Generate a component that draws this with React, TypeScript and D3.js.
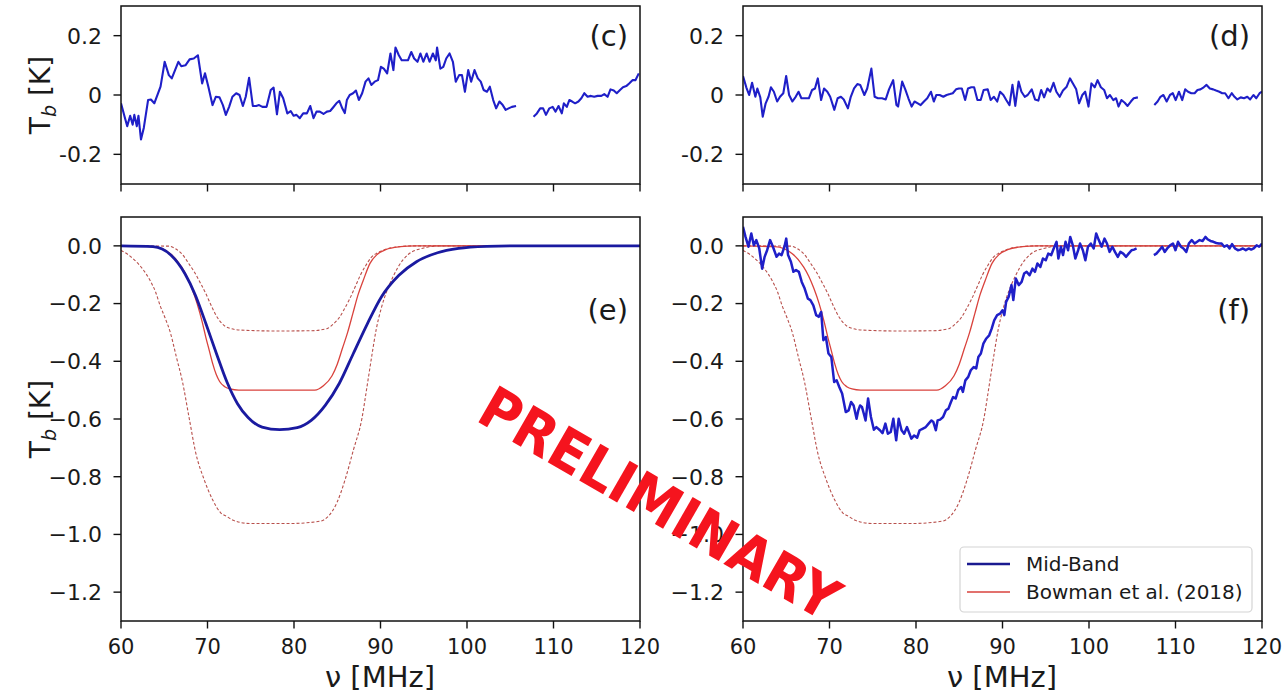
import React from "react";
import * as d3 from "d3";

type Pt = [number, number | null];

const freqTicks = [60, 70, 80, 90, 100, 110, 120];
const residualTicks = [-0.2, 0, 0.2];
const residualTickLabels = ["-0.2", "0", "0.2"];
const profileTicks = [0, -0.2, -0.4, -0.6, -0.8, -1.0, -1.2];
const profileTickLabels = ["0.0", "−0.2", "−0.4", "−0.6", "−0.8", "−1.0", "−1.2"];
const panelTags = ["(c)", "(d)", "(e)", "(f)"];
const legendLabels = ["Mid-Band", "Bowman et al. (2018)"];

// (c) residuals, Bowman-model fit
const residualC: Pt[] = [
  [60.0,-0.028],[60.48,-0.08],[60.72,-0.105],[61.06,-0.07],[61.35,-0.1],[61.54,-0.067],[61.83,-0.105],[62.02,-0.07],[62.31,-0.15],[62.64,-0.11],
  [63.13,-0.017],[63.46,-0.015],[63.85,-0.028],[64.57,0.028],[65.05,0.112],[65.53,0.067],[65.87,0.056],[66.25,0.084],[66.63,0.112],[66.97,0.097],
  [67.45,0.1],[67.93,0.12],[68.41,0.123],[68.89,0.134],[69.38,0.039],[69.71,0.073],[70.1,0.028],[70.58,-0.034],[70.96,-0.006],[71.39,-0.008],
  [71.78,-0.034],[72.12,-0.067],[72.5,-0.04],[72.88,-0.006],[73.32,0.006],[73.7,0],[74.09,-0.037],[74.42,-0.006],[74.81,0.058],[75.24,-0.037],
  [75.63,-0.037],[75.96,-0.034],[76.35,-0.04],[76.83,-0.04],[77.31,0.017],[77.64,0.025],[78.03,-0.065],[78.37,0.011],[78.75,-0.011],[79.23,-0.062],
  [79.62,-0.054],[79.95,-0.07],[80.29,-0.067],[80.67,-0.078],[81.06,-0.062],[81.49,-0.062],[81.88,-0.037],[82.26,-0.078],[82.6,-0.056],[82.98,-0.056],
  [83.41,-0.064],[83.8,-0.056],[84.18,-0.054],[84.52,-0.042],[84.9,-0.028],[85.24,-0.02],[85.58,-0.045],[85.87,-0.061],[86.11,-0.017],[86.44,0],
  [86.83,0.006],[87.16,0.015],[87.5,-0.017],[87.88,0.006],[88.27,0.045],[88.61,0.056],[88.94,0.034],[89.33,0.045],[89.71,0.05],[90.05,0.095],
  [90.38,0.089],[90.77,0.073],[91.15,0.14],[91.49,0.084],[91.73,0.16],[92.12,0.134],[92.45,0.117],[92.79,0.117],[93.17,0.117],[93.56,0.145],
  [93.89,0.123],[94.28,0.112],[94.62,0.14],[94.95,0.112],[95.34,0.14],[95.67,0.112],[96.06,0.14],[96.39,0.117],[96.54,0.16],[96.92,0.089],
  [97.26,0.095],[97.6,0.123],[97.98,0.14],[98.37,0.112],[98.7,0.045],[99.09,0.067],[99.42,0.067],[99.76,0.011],[100.14,0.084],[100.48,0.045],
  [100.87,0.084],[101.25,0.056],[101.59,0.045],[101.92,0.017],[102.31,0.011],[102.64,0.028],[103.03,-0.017],[103.37,-0.045],[103.75,-0.022],[104.13,-0.034],
  [104.47,-0.05],[104.81,-0.045],[105.19,-0.04],[105.67,-0.037],[106.6,null],
  [107.69,-0.073],[108.08,-0.062],[108.46,-0.045],[108.8,-0.045],[109.13,-0.067],[109.52,-0.045],[109.9,-0.04],[110.24,-0.056],[110.58,-0.037],[110.96,-0.062],
  [111.2,-0.028],[111.54,-0.04],[111.83,-0.017],[112.16,-0.022],[112.5,-0.028],[112.88,-0.022],[113.22,-0.011],[113.56,0.006],[113.94,-0.006],[114.33,-0.003],
  [114.71,-0.006],[115.1,-0.003],[115.53,-0.003],[115.87,0.003],[116.25,-0.006],[116.59,0.019],[116.97,0.015],[117.31,0.006],[117.69,0.017],[118.03,0.026],
  [118.41,0.03],[118.75,0.039],[119.13,0.05],[119.47,0.05],[119.86,0.073]
];

// (d) residuals, Mid-Band fit
const residualD: Pt[] = [
  [60.0,0.064],[60.38,0.026],[60.71,0],[61.05,0.041],[61.43,-0.006],[61.66,0.022],[62.0,-0.008],[62.28,-0.073],[62.62,-0.028],[62.95,-0.006],
  [63.23,0.026],[63.57,0.011],[63.95,-0.022],[64.28,-0.006],[64.66,0.006],[64.99,0.064],[65.33,0],[65.71,-0.022],[66.09,-0.006],[66.42,0.011],
  [66.75,-0.011],[67.13,-0.011],[67.61,-0.011],[67.99,0.017],[68.32,0.022],[68.65,0.056],[69.03,-0.017],[69.37,0.022],[69.75,0.011],[70.08,-0.006],
  [70.56,-0.05],[70.94,-0.011],[71.32,-0.006],[71.65,-0.015],[72.13,-0.045],[72.46,-0.006],[72.84,0.022],[73.22,0.037],[73.55,0.034],[74.03,0],
  [74.36,0.022],[74.84,0.089],[75.22,-0.006],[75.6,-0.011],[76.07,-0.011],[76.5,-0.015],[76.88,0.019],[77.36,0.05],[77.74,-0.034],[77.93,-0.039],
  [78.4,0.045],[78.78,0.017],[79.12,-0.011],[79.5,-0.039],[79.83,-0.022],[80.21,-0.028],[80.54,-0.034],[80.92,-0.022],[81.3,-0.011],[81.73,0.011],
  [82.06,-0.022],[82.35,0],[82.73,0],[83.16,-0.006],[83.54,0],[83.92,0.003],[84.25,0.006],[84.63,0.019],[84.96,0.022],[85.3,0.022],
  [85.68,-0.017],[86.01,0.022],[86.39,0.026],[86.72,0.026],[87.1,-0.017],[87.48,-0.017],[87.82,0.017],[88.29,0.019],[88.63,-0.017],[89.01,-0.006],
  [89.39,-0.022],[89.72,0.011],[90.1,0],[90.43,-0.017],[90.81,-0.034],[91.15,0.034],[91.48,-0.037],[91.86,0.045],[92.19,0.011],[92.57,-0.006],
  [92.91,0],[93.38,0.019],[93.76,-0.015],[94.14,-0.019],[94.47,0.017],[94.81,-0.008],[95.19,0.022],[95.52,0.011],[95.9,0.041],[96.23,0.011],
  [96.61,-0.006],[96.99,0.015],[97.42,0.028],[97.8,0.056],[98.14,0.039],[98.52,0.019],[98.85,-0.028],[99.23,0],[99.56,0.011],[99.94,-0.039],
  [100.28,0.039],[100.66,0.026],[100.99,0.05],[101.37,0.026],[101.75,0.017],[102.08,-0.011],[102.42,0],[102.8,-0.017],[103.13,-0.011],[103.41,-0.039],
  [103.75,-0.017],[104.13,-0.026],[104.46,-0.037],[104.84,-0.022],[105.17,-0.011],[105.65,-0.008],[106.6,null],
  [107.55,-0.034],[107.93,-0.022],[108.26,-0.006],[108.6,0],[108.98,-0.022],[109.36,0],[109.69,0.006],[110.02,-0.017],[110.4,0.011],[110.78,-0.017],
  [111.12,0.019],[111.45,0.011],[111.83,0.006],[112.21,0.006],[112.54,0.017],[112.88,0.019],[113.26,0.026],[113.59,0.034],[113.97,0.022],[114.35,0.019],
  [114.69,0.015],[115.07,0.011],[115.4,0.006],[115.74,0.006],[116.12,-0.011],[116.5,0.006],[116.82,-0.006],[117.15,-0.015],[117.54,-0.008],[117.92,-0.011],
  [118.3,-0.006],[118.63,-0.015],[119.01,0],[119.34,-0.011],[119.72,0.006],[120.0,0.011]
];

// (e) Mid-Band best-fit model
const midBandModel: Pt[] = [
  [60,0],[63.7,-0.003],[65.76,-0.032],[67.38,-0.096],[68.6,-0.171],[69.82,-0.27],[71.03,-0.373],[72.25,-0.472],[73.47,-0.547],
  [74.69,-0.595],[76.31,-0.628],[78.34,-0.637],[80.37,-0.63],[81.99,-0.605],[83.61,-0.553],[85.23,-0.477],[86.86,-0.373],
  [88.48,-0.27],[90.1,-0.177],[92.13,-0.102],[94.16,-0.055],[96.59,-0.024],[99.03,-0.009],[102.27,-0.002],[106,0],[120,0]
];

// (f) Mid-Band data (model + residuals)
const midBandData: Pt[] = [
  [60.0,0.066],[60.29,0.031],[60.63,-0.003],[60.96,0.043],[61.25,0.002],[61.54,0.02],[61.88,-0.009],[62.21,-0.079],[62.5,-0.038],[62.79,-0.015],
  [63.13,0.02],[63.46,-0.003],[63.88,-0.038],[64.17,-0.027],[64.46,-0.032],[64.79,-0.003],[65.0,0.025],[65.21,-0.032],[65.54,-0.055],[65.83,-0.09],
  [66.13,-0.084],[66.46,-0.09],[66.79,-0.125],[67.13,-0.148],[67.5,-0.183],[67.79,-0.188],[68.13,-0.206],[68.46,-0.24],[68.75,-0.246],[69.04,-0.229],
  [69.29,-0.327],[69.58,-0.316],[69.88,-0.373],[70.21,-0.385],[70.54,-0.472],[70.83,-0.466],[71.13,-0.489],[71.46,-0.512],[71.88,-0.576],[72.21,-0.57],
  [72.5,-0.541],[72.79,-0.553],[73.13,-0.599],[73.33,-0.57],[73.54,-0.553],[73.75,-0.558],[73.96,-0.581],[74.17,-0.605],[74.46,-0.529],[74.79,-0.593],
  [75.13,-0.637],[75.42,-0.628],[75.83,-0.639],[76.13,-0.649],[76.46,-0.616],[76.75,-0.651],[77.08,-0.645],[77.38,-0.599],[77.71,-0.674],[78.0,-0.599],
  [78.33,-0.639],[78.63,-0.651],[78.96,-0.628],[79.25,-0.651],[79.46,-0.668],[79.79,-0.657],[80.13,-0.665],[80.42,-0.639],[80.75,-0.634],[81.13,-0.628],
  [81.46,-0.616],[81.79,-0.605],[82.0,-0.61],[82.29,-0.639],[82.5,-0.605],[82.79,-0.602],[83.13,-0.593],[83.46,-0.57],[83.75,-0.564],[84.04,-0.541],
  [84.29,-0.524],[84.58,-0.529],[84.88,-0.5],[85.21,-0.489],[85.42,-0.506],[85.71,-0.466],[86.04,-0.454],[86.33,-0.431],[86.67,-0.42],[86.96,-0.425],
  [87.21,-0.385],[87.5,-0.373],[87.79,-0.339],[88.13,-0.321],[88.46,-0.31],[88.75,-0.287],[89.04,-0.258],[89.38,-0.24],[89.71,-0.235],[90.0,-0.223],
  [90.21,-0.24],[90.42,-0.194],[90.71,-0.177],[91.04,-0.136],[91.25,-0.188],[91.54,-0.113],[91.88,-0.136],[92.21,-0.125],[92.5,-0.096],[92.79,-0.09],
  [93.13,-0.102],[93.46,-0.079],[93.75,-0.09],[94.04,-0.061],[94.38,-0.073],[94.67,-0.044],[95.0,-0.05],[95.29,-0.027],[95.63,-0.032],[95.92,-0.009],
  [96.25,0.014],[96.46,-0.044],[96.75,-0.003],[97.0,-0.032],[97.29,0.014],[97.58,-0.015],[97.83,0.031],[98.13,0.002],[98.42,-0.044],[98.75,-0.015],
  [98.96,0.008],[99.29,-0.015],[99.58,-0.05],[99.88,-0.003],[100.21,0.008],[100.54,-0.009],[100.83,0.043],[101.13,0.02],[101.46,-0.003],[101.79,0.025],
  [102.08,0.008],[102.38,-0.021],[102.71,-0.003],[103.0,-0.021],[103.33,-0.038],[103.63,-0.021],[103.96,-0.027],[104.29,-0.038],[104.58,-0.027],[104.92,-0.015],
  [105.21,-0.013],[105.5,-0.009],[106.5,null],
  [107.5,-0.032],[107.79,-0.027],[108.13,-0.015],[108.46,-0.003],[108.75,-0.021],[109.04,-0.009],[109.38,0.002],[109.71,0.008],[110.0,-0.015],[110.29,0.014],
  [110.63,-0.003],[110.92,-0.009],[111.25,-0.021],[111.54,0.008],[111.88,0.02],[112.21,0.008],[112.5,0.014],[112.79,0.02],[113.13,0.017],[113.46,0.031],
  [113.75,0.022],[114.04,0.017],[114.38,0.014],[114.71,0.01],[115.0,0.008],[115.33,0.008],[115.63,-0.003],[115.96,0.002],[116.25,-0.009],[116.54,0.006],
  [116.88,-0.009],[117.21,-0.015],[117.5,-0.013],[117.79,-0.009],[118.13,-0.015],[118.46,-0.009],[118.75,-0.013],[119.04,-0.009],[119.38,0.002],[119.67,-0.003],
  [120.0,0.008]
];

// Bowman et al. (2018) best fit and its envelope
const bowmanModel: Pt[] = [
  [60,0],[63.7,-0.003],[65.7,-0.027],[67.0,-0.073],[67.6,-0.105],[68.2,-0.148],[68.8,-0.2],[69.4,-0.265],[69.8,-0.316],[70.2,-0.362],
  [70.6,-0.408],[71.0,-0.445],[71.4,-0.47],[72.0,-0.488],[72.6,-0.496],[73.6,-0.5],[78,-0.5],[82.4,-0.5],[83.4,-0.485],[84.4,-0.45],
  [85.0,-0.41],[85.6,-0.355],[86.2,-0.3],[86.8,-0.235],[87.4,-0.17],[88.0,-0.12],[88.8,-0.06],[89.6,-0.03],[90.6,-0.013],[92.3,-0.003],[94,0],[120,0]
];
const bowmanUpper: Pt[] = [
  [60,0],[65.5,-0.001],[66.3,-0.01],[67.1,-0.03],[67.8,-0.06],[68.57,-0.095],[69.2,-0.13],[69.8,-0.165],[70.4,-0.205],[71.03,-0.243],
  [71.7,-0.27],[72.4,-0.284],[73.9,-0.292],[78,-0.295],[82,-0.294],[83.8,-0.287],[84.5,-0.272],[85.2,-0.25],[85.8,-0.22],[86.45,-0.183],
  [87.1,-0.14],[87.7,-0.1],[88.3,-0.068],[88.9,-0.041],[89.6,-0.025],[90.3,-0.015],[92.1,-0.003],[94,0],[120,0]
];
const bowmanLower: Pt[] = [
  [60,-0.016],[60.8,-0.03],[61.6,-0.05],[62.5,-0.08],[63.4,-0.122],[64.0,-0.16],[64.5,-0.205],[65.1,-0.25],[65.7,-0.3],[66.4,-0.385],
  [67.1,-0.47],[67.9,-0.6],[68.64,-0.717],[69.6,-0.809],[70.56,-0.878],[71.52,-0.925],[72.24,-0.938],[72.96,-0.951],[74.88,-0.962],[79.68,-0.962],
  [83.04,-0.954],[84.0,-0.936],[84.96,-0.89],[85.92,-0.809],[86.88,-0.706],[87.84,-0.6],[88.48,-0.48],[89.0,-0.38],[89.5,-0.29],[90.1,-0.215],
  [90.75,-0.155],[91.4,-0.11],[92.0,-0.075],[93.2,-0.03],[94.9,-0.008],[97,0],[120,0]
];

const FONT = "'DejaVu Sans', sans-serif";
const BLUE = "#1f1fc8";
const BLUE_DARK = "#1a1aa0";
const RED = "#d9423c";
const RED_DASH = "#b8504c";

interface Series {
  data: Pt[];
  color: string;
  width: number;
  dash?: string;
  smooth?: boolean;
}

interface PanelProps {
  id: string;
  x0: number; x1: number; y0: number; y1: number;
  yDomain: [number, number];
  yTicks: number[];
  yTickLabels: string[];
  xLabels: boolean;
  series: Series[];
  tag: string;
  tagY: number;
}

function Panel(p: PanelProps) {
  const x = d3.scaleLinear().domain([60, 120]).range([p.x0, p.x1]);
  const y = d3.scaleLinear().domain(p.yDomain).range([p.y1, p.y0]);
  const TL = 7.5;
  return (
    <g>
      <defs>
        <clipPath id={"clip-" + p.id}>
          <rect x={p.x0} y={p.y0} width={p.x1 - p.x0} height={p.y1 - p.y0} />
        </clipPath>
      </defs>
      <g clipPath={`url(#clip-${p.id})`}>
        {p.series.map((s, i) => {
          const line = d3
            .line<Pt>()
            .defined((d) => d[1] !== null)
            .x((d) => x(d[0]))
            .y((d) => y(d[1] as number))
            .curve(s.smooth ? d3.curveMonotoneX : d3.curveLinear);
          return (
            <path
              key={i}
              d={line(s.data) || ""}
              fill="none"
              stroke={s.color}
              strokeWidth={s.width}
              strokeDasharray={s.dash}
              strokeLinejoin="round"
            />
          );
        })}
      </g>
      <rect x={p.x0} y={p.y0} width={p.x1 - p.x0} height={p.y1 - p.y0} fill="none" stroke="#111" strokeWidth={1.5} />
      {freqTicks.map((t) => (
        <g key={"xt" + t}>
          <line x1={x(t)} x2={x(t)} y1={p.y1} y2={p.y1 + TL} stroke="#111" strokeWidth={1.4} />
          {p.xLabels && (
            <text x={x(t)} y={p.y1 + 33} textAnchor="middle" fontFamily={FONT} fontSize={21} fill="#1a1a1a">
              {String(t)}
            </text>
          )}
        </g>
      ))}
      {p.yTicks.map((t, i) => (
        <g key={"yt" + t}>
          <line x1={p.x0 - TL} x2={p.x0} y1={y(t)} y2={y(t)} stroke="#111" strokeWidth={1.4} />
          <text x={p.x0 - 19} y={y(t)} dy="0.36em" textAnchor="end" fontFamily={FONT} fontSize={22} fill="#1a1a1a">
            {p.yTickLabels[i]}
          </text>
        </g>
      ))}
      <text x={p.x1 - 12} y={p.tagY} textAnchor="end" fontFamily={FONT} fontSize={29} fill="#1a1a1a">
        {p.tag}
      </text>
    </g>
  );
}

function YLabel({ x, y }: { x: number; y: number }) {
  return (
    <text transform={`translate(${x},${y}) rotate(-90)`} textAnchor="middle" fontFamily={FONT} fontSize={28} fill="#1a1a1a">
      T
      <tspan dy={6} fontSize={19} fontStyle="italic">b</tspan>
      <tspan dy={-6}> [K]</tspan>
    </text>
  );
}

export default function App() {
  const L = { x0: 121, x1: 640 };
  const R = { x0: 743, x1: 1262 };
  const T = { y0: 6, y1: 184 };
  const B = { y0: 217, y1: 621 };
  const modelSeries: Series[] = [
    { data: bowmanUpper, color: RED_DASH, width: 1.1, dash: "3,2", smooth: true },
    { data: bowmanLower, color: RED_DASH, width: 1.1, dash: "3,2", smooth: true },
    { data: bowmanModel, color: RED, width: 1.3, smooth: true },
  ];
  return (
    <div style={{ position: "absolute", left: 0, top: 0, width: 1285, height: 697, background: "#fff" }}>
      <svg width={1285} height={697} style={{ display: "block" }}>
        <rect x={0} y={0} width={1285} height={697} fill="#fff" />
        <Panel id="c" {...L} {...T} yDomain={[-0.3, 0.3]} yTicks={residualTicks} yTickLabels={residualTickLabels}
          xLabels={false} series={[{ data: residualC, color: BLUE, width: 2.1 }]} tag={panelTags[0]} tagY={46} />
        <Panel id="d" {...R} {...T} yDomain={[-0.3, 0.3]} yTicks={residualTicks} yTickLabels={residualTickLabels}
          xLabels={false} series={[{ data: residualD, color: BLUE, width: 2.1 }]} tag={panelTags[1]} tagY={46} />
        <Panel id="e" {...L} {...B} yDomain={[-1.3, 0.1]} yTicks={profileTicks} yTickLabels={profileTickLabels}
          xLabels={true} series={[...modelSeries, { data: midBandModel, color: BLUE_DARK, width: 2.8, smooth: true }]}
          tag={panelTags[2]} tagY={320} />
        <Panel id="f" {...R} {...B} yDomain={[-1.3, 0.1]} yTicks={profileTicks} yTickLabels={profileTickLabels}
          xLabels={true} series={[...modelSeries, { data: midBandData, color: BLUE, width: 2.5 }]}
          tag={panelTags[3]} tagY={320} />
        <YLabel x={50} y={95} />
        <YLabel x={50} y={419} />
        <text x={380} y={687} textAnchor="middle" fontFamily={FONT} fontSize={29} fill="#1a1a1a">ν [MHz]</text>
        <text x={1002} y={687} textAnchor="middle" fontFamily={FONT} fontSize={29} fill="#1a1a1a">ν [MHz]</text>
        {/* legend */}
        <g>
          <rect x={960} y={547} width={292} height={65} rx={4} fill="#fff" fillOpacity={0.85} stroke="#d4d4d4" strokeWidth={1.2} />
          <line x1={967} x2={1010} y1={564} y2={564} stroke="#1a1a90" strokeWidth={2.6} />
          <line x1={967} x2={1010} y1={592} y2={592} stroke={RED} strokeWidth={1.3} />
          <text x={1026} y={571} fontFamily={FONT} fontSize={20} fill="#1a1a1a">{legendLabels[0]}</text>
          <text x={1026} y={599} fontFamily={FONT} fontSize={20} fill="#1a1a1a">{legendLabels[1]}</text>
        </g>
        <text transform="translate(660,503) rotate(30)" textAnchor="middle" dy="0.36em" fontFamily={FONT}
          fontWeight="bold" fontSize={58} textLength={405} lengthAdjust="spacingAndGlyphs" fill="#f5141e">PRELIMINARY</text>
      </svg>
    </div>
  );
}
